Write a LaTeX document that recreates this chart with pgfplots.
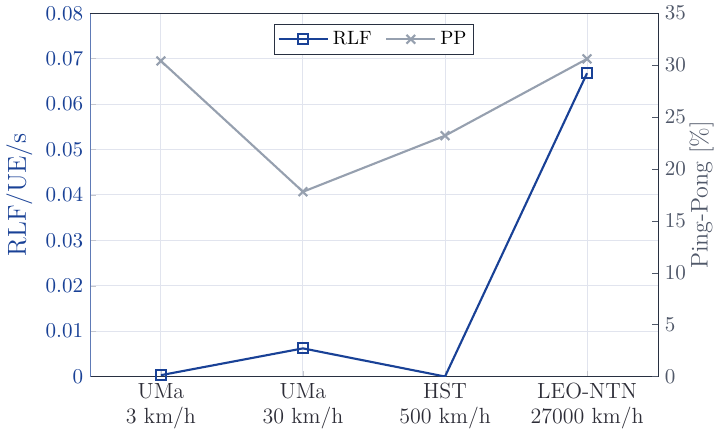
\documentclass[border=0pt]{standalone}
\usepackage{pgfplots}
\pgfplotsset{compat=1.18}
\definecolor{rlfblue}{RGB}{25,65,150}
\definecolor{ppgray}{RGB}{150,160,175}
\definecolor{axdark}{RGB}{40,48,65}
\definecolor{gridc}{RGB}{225,228,238}
\definecolor{rtick}{RGB}{80,88,105}
\definecolor{xlab}{RGB}{45,45,55}
\pgfplotsset{
  mylegimg/.style={legend image code/.code={
    \draw[mark repeat=2,mark phase=2,##1] plot coordinates {(0cm,0cm) (0.45cm,0cm) (0.9cm,0cm)};}}
}
\begin{document}
\begin{tikzpicture}
\begin{axis}[
  width=294bp, height=188bp, scale only axis,
  xmin=-0.5, xmax=3.5, ymin=0, ymax=0.08,
  xtick={0,1,2,3},
  xticklabels={{UMa\\3 km/h},{UMa\\30 km/h},{HST\\500 km/h},{LEO-NTN\\27000 km/h}},
  xticklabel style={align=center, font=\fontsize{11.4}{13}\selectfont, text=xlab},
  ytick={0,0.01,...,0.08},
  yticklabel style={/pgf/number format/fixed, /pgf/number format/precision=2, font=\fontsize{11}{13}\selectfont, text=rlfblue},
  scaled y ticks=false,
  axis y line*=left,
  axis x line*=bottom,
  ylabel={RLF/UE/s}, ylabel style={font=\fontsize{13.5}{15}\selectfont, text=rlfblue},
  grid=major, major grid style={gridc, line width=0.5pt},
  y axis line style={rlfblue!70!white},
  x axis line style={axdark},
  tick style={gridc!70!gray},
  major tick length=3bp,
  legend style={at={(0.5,0.97)}, anchor=north, font=\fontsize{10}{12}\selectfont, legend columns=2, draw=axdark, inner sep=1.5pt, /tikz/every even column/.append style={column sep=5pt}},
  legend cell align=left,
]
\addplot[rlfblue, line width=1.1pt, mark=square, mark size=2.6pt, mark options={line width=1.1pt}, mark indices={1,2,4}, forget plot] coordinates {(0,0.0003) (1,0.0062) (2,0.0) (3,0.0668)};
\addlegendimage{mylegimg, rlfblue, line width=1.1pt, mark=square, mark size=2.6pt, mark options={line width=1.1pt}}
\addlegendentry{RLF}
\addlegendimage{mylegimg, ppgray, line width=1.1pt, mark=x, mark size=3.2pt, mark options={line width=1.1pt}}
\addlegendentry{PP}
\end{axis}
\begin{axis}[
  width=294bp, height=188bp, scale only axis,
  xmin=-0.5, xmax=3.5, ymin=0, ymax=35,
  axis y line*=right, axis x line*=top,
  xtick=\empty,
  ytick={0,5,...,35},
  yticklabel style={font=\fontsize{11}{13}\selectfont, text=rtick},
  ylabel={Ping-Pong [\%]}, ylabel style={font=\fontsize{12.5}{14}\selectfont, text=rtick},
  ylabel shift=-5bp,
  y axis line style={axdark}, x axis line style={axdark},
  tick style={rtick},
  major tick length=3bp,
]
\addplot[ppgray, line width=1.1pt, mark=x, mark size=3.2pt, mark options={line width=1.1pt}] coordinates {(0,30.4) (1,17.8) (2,23.2) (3,30.6)};
\end{axis}
\end{tikzpicture}
\end{document}
